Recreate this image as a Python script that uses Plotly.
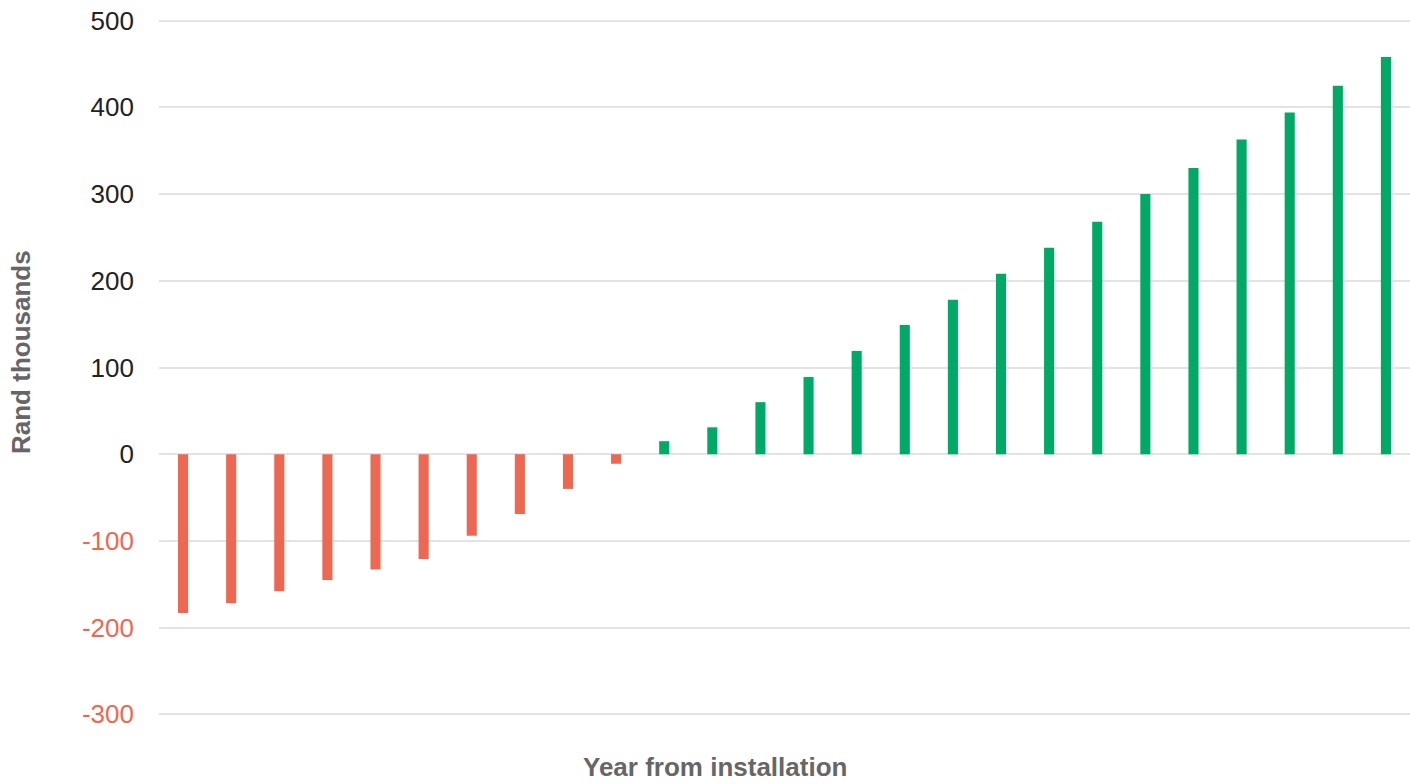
import plotly.graph_objects as go

# Net cumulative position per year after installation (Rand thousands)
years = list(range(1, 27))
net_value = [-183, -172, -158, -145, -133, -121, -94, -69, -40, -11,
             15, 31, 60, 89, 119, 149, 178, 208, 238, 268,
             300, 330, 363, 394, 425, 458]

y_ticks = [-300, -200, -100, 0, 100, 200, 300, 400, 500]

RED = "#EC6852"
GREEN = "#00AA66"
TICK_DARK = "#222222"
TITLE_GREY = "#666666"

bar_colors = [RED if v < 0 else GREEN for v in net_value]
tick_text = [
    f'<span style="color:{RED if t < 0 else TICK_DARK}">{t}</span>' for t in y_ticks
]

fig = go.Figure(
    go.Bar(
        x=years,
        y=net_value,
        marker=dict(color=bar_colors, line=dict(width=0)),
        width=0.21,
        hoverinfo="x+y",
    )
)

W, H = 1410, 784
ML, MR, MT, MB = 159, 0, 12, 61
plot_w = W - ML - MR
plot_h = H - MT - MB


def px_x(px):
    return (px - ML) / plot_w


def px_y(py):
    return (H - MB - py) / plot_h


fig.update_layout(
    width=W,
    height=H,
    margin=dict(l=ML, r=MR, t=MT, b=MB, pad=0),
    paper_bgcolor="white",
    plot_bgcolor="white",
    showlegend=False,
    font=dict(family="Liberation Sans, Arial, sans-serif", size=26, color=TICK_DARK),
    xaxis=dict(
        range=[0.5, 26.5],
        showticklabels=False,
        showgrid=False,
        zeroline=False,
        showline=False,
        ticks="",
    ),
    yaxis=dict(
        range=[-310, 510],
        tickvals=y_ticks,
        ticktext=tick_text,
        showgrid=True,
        gridcolor="#E3E3E3",
        gridwidth=2,
        zeroline=False,
        showline=False,
        ticks="",
        ticklabelstandoff=24,
        tickfont=dict(size=26),
    ),
    annotations=[
        dict(
            text="<b>Year from installation</b>",
            xref="paper", yref="paper",
            x=px_x(715), y=px_y(767),
            xanchor="center", yanchor="middle",
            showarrow=False,
            font=dict(size=26, color=TITLE_GREY),
        ),
        dict(
            text="<b>Rand thousands</b>",
            xref="paper", yref="paper",
            x=px_x(21), y=px_y(352),
            xanchor="center", yanchor="middle",
            textangle=-90,
            showarrow=False,
            font=dict(size=26, color=TITLE_GREY),
        ),
    ],
)

fig.write_html("out.html")
